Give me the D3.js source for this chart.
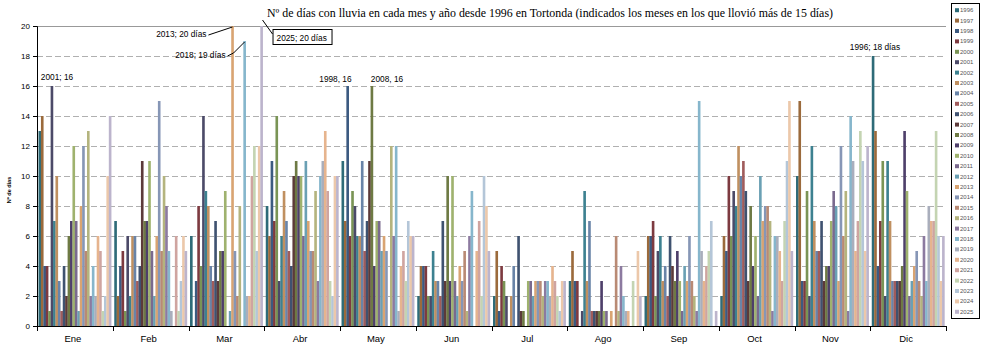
<!DOCTYPE html>
<html><head><meta charset="utf-8">
<script src="https://cdn.jsdelivr.net/npm/d3@7"></script>
<style>body{margin:0;background:#fff}svg{display:block}</style>
</head><body><svg id="c" width="983" height="349"></svg>
<script>
const months = ["Ene","Feb","Mar","Abr","May","Jun","Jul","Ago","Sep","Oct","Nov","Dic"];
const years = d3.range(1996, 2026).map(String);
const yTicks = [0,2,4,6,8,10,12,14,16,18,20];
const ene = [13,14,4,4,1,16,7,10,3,1,4,2,6,7,12,7,1,8,12,5,13,2,4,2,6,5,1,2,10,14];
const feb = [7,2,4,5,1,6,2,6,6,3,4,11,7,7,11,5,2,6,15,5,10,8,5,1,0,6,1,3,6,5];
const mar = [6,0,3,8,4,14,9,8,4,3,7,3,5,5,9,0,1,20,5,2,8,0,19,2,2,10,12,5,12,20];
const abr = [8,6,11,7,14,3,6,9,7,5,4,10,11,10,10,6,11,7,5,5,9,3,10,11,13,9,3,2,10,10];
const may = [11,7,16,6,9,8,6,6,11,5,7,11,16,4,7,7,5,6,5,0,12,6,12,1,4,5,3,7,6,6];
const jun = [2,4,4,4,2,2,5,3,3,2,7,3,10,3,10,3,2,4,3,5,1,6,9,0,5,7,2,10,8,5];
const jul = [2,5,1,4,3,2,0,2,4,0,6,1,1,0,3,3,2,3,3,3,2,3,3,2,4,3,2,1,3,3];
const ago = [3,5,3,3,0,1,9,3,7,1,1,1,1,3,1,1,0,1,0,6,1,4,2,1,1,0,3,0,5,2];
const sep = [2,6,6,7,2,5,6,3,4,2,6,4,3,5,3,1,4,3,6,3,2,1,15,5,3,4,5,7,0,1];
const oct = [2,6,5,10,6,9,8,12,10,11,9,3,8,4,6,2,10,7,8,8,7,1,6,6,5,3,7,11,15,5];
const nov = [10,15,3,3,9,2,12,7,5,5,7,3,4,4,7,9,8,3,12,6,9,1,14,11,5,7,13,11,5,12];
const dic = [18,13,4,7,11,2,11,7,3,3,3,3,4,13,9,2,3,4,5,3,2,6,3,8,7,7,13,6,3,6];
const monthValues = [ene,feb,mar,abr,may,jun,jul,ago,sep,oct,nov,dic];
const yearColors = ["#2e6b78","#9b6a3c","#3c5a80","#7d3a40","#7a9455","#4c4a68","#3d8190","#c09060","#6984a8","#a05c5c",
  "#3f5270","#5c3a3a","#6e7a44","#4e3f6a","#9fb26e","#7a6a8e","#6aa0b4","#d9a472","#8696b6","#b98a74",
  "#b4b47e","#8c7aa0","#86b6cc","#a9aebc","#e6b48e","#cfa4a0","#c4d4b2","#b4c6d8","#ecc8aa","#bcb4cc"];
const title = "Nº de días con lluvia en cada mes y año desde 1996 en Tortonda (indicados los meses en los que llovió más de 15 días)";
const yTitle = "Nº de días";
// annotations: [text, month, year]
const notes = [
  ["2001; 16","Ene","2001"],
  ["2013; 20 días","Mar","2013"],
  ["2018; 19 días","Mar","2018"],
  ["2025; 20 días","Mar","2025"],
  ["1998, 16","May","1998"],
  ["2008, 16","May","2008"],
  ["1996; 18 días","Dic","1996"]
];

const svg = d3.select("#c");
const L = 37, R = 946, T = 26, B = 326;
const x0 = d3.scaleBand().domain(months).range([L, R]).paddingInner(0.04).paddingOuter(0.02);
const x1 = d3.scaleBand().domain(years).range([0, x0.bandwidth()]);
const y = d3.scaleLinear().domain([0, 20]).range([B, T]);
const color = d3.scaleOrdinal().domain(years).range(yearColors);

// gridlines
svg.append("g").selectAll("line").data(yTicks.filter(d => d > 0)).join("line")
  .attr("x1", L).attr("x2", R).attr("y1", d => y(d) + 0.5).attr("y2", d => y(d) + 0.5)
  .attr("stroke", d => d === 20 ? "#999" : "#b0b0b0").attr("stroke-width", 1)
  .attr("stroke-dasharray", d => d === 20 ? null : "6,3");

// bars
const data = [];
months.forEach((m, i) => years.forEach((yr, j) => data.push({m, yr, v: monthValues[i][j]})));
svg.append("g").selectAll("rect").data(data).join("rect")
  .attr("x", d => x0(d.m) + x1(d.yr))
  .attr("y", d => y(d.v))
  .attr("width", x1.bandwidth() + 0.2)
  .attr("height", d => B - y(d.v))
  .attr("fill", d => color(d.yr));

// axes
const yAxis = d3.axisLeft(y).tickValues(yTicks).tickSize(4).tickPadding(3);
const gy = svg.append("g").attr("transform", `translate(${L},0)`).call(yAxis);
gy.selectAll("text").attr("font-family", "Arial, Liberation Sans, sans-serif").attr("font-size", 8).attr("fill", "#000");
gy.selectAll("path,line").attr("stroke", "#000");

const xb = d3.scaleLinear().domain([0, 12]).range([L, R]);
const gx = svg.append("g");
gx.append("line").attr("x1", L).attr("x2", R).attr("y1", B + 0.5).attr("y2", B + 0.5).attr("stroke", "#000");
gx.selectAll("line.t").data(d3.range(13)).join("line").attr("class", "t")
  .attr("x1", d => Math.round(xb(d)) + 0.5).attr("x2", d => Math.round(xb(d)) + 0.5)
  .attr("y1", B).attr("y2", B + 5).attr("stroke", "#000");
gx.selectAll("text").data(months).join("text")
  .attr("x", d => x0(d) + x0.bandwidth() / 2 - 2).attr("y", 342)
  .attr("text-anchor", "middle").attr("font-family", "Arial, Liberation Sans, sans-serif")
  .attr("font-size", 9.5).text(d => d);

// titles
svg.append("text").attr("x", 550).attr("y", 17).attr("text-anchor", "middle")
  .attr("font-family", "Liberation Serif, Times New Roman, serif").attr("font-size", 11.9).text(title);
svg.append("text").attr("transform", "translate(11,190) rotate(-90)").attr("text-anchor", "middle")
  .attr("font-family", "Arial, Liberation Sans, sans-serif").attr("font-size", 5.5).attr("font-weight", "bold").text(yTitle);

// annotations
const bx = (m, yr) => x0(m) + x1(yr) + x1.bandwidth() / 2;
const val = (m, yr) => monthValues[months.indexOf(m)][years.indexOf(yr)];
const ag = svg.append("g").attr("font-family", "Arial, Liberation Sans, sans-serif").attr("font-size", 8.3).attr("fill", "#000");
notes.forEach(([t, m, yr]) => {
  const cx = bx(m, yr), ty = y(val(m, yr));
  if (t.startsWith("2001")) {
    ag.append("text").attr("x", cx - 11).attr("y", ty - 6).text(t);
  } else if (t.startsWith("1998")) {
    ag.append("text").attr("x", cx + 4).attr("y", ty - 4).attr("text-anchor", "end").text(t);
  } else if (t.startsWith("2008")) {
    ag.append("text").attr("x", cx - 1).attr("y", ty - 4).text(t);
  } else if (t.startsWith("1996")) {
    ag.append("text").attr("x", cx + 2).attr("y", ty - 6).attr("text-anchor", "middle").text(t);
  } else if (t.startsWith("2013")) {
    ag.append("text").attr("x", cx - 26).attr("y", ty + 11).attr("text-anchor", "end").text(t);
    ag.append("path").attr("d", `M${cx - 24},${ty + 9} L${cx},${ty + 1}`).attr("stroke", "#000").attr("fill", "none");
  } else if (t.startsWith("2018")) {
    ag.append("text").attr("x", cx - 19).attr("y", ty + 17).attr("text-anchor", "end").text(t);
    ag.append("path").attr("d", `M${cx - 17},${ty + 15} L${cx - 11},${ty + 12} L${cx},${ty + 1}`).attr("stroke", "#000").attr("fill", "none");
  } else if (t.startsWith("2025")) {
    ag.append("rect").attr("x", cx + 11.5).attr("y", ty + 3.5).attr("width", 59).attr("height", 15)
      .attr("fill", "#fff").attr("stroke", "#000");
    ag.append("text").attr("x", cx + 15).attr("y", ty + 14.5).text(t);
    ag.append("path").attr("d", `M${cx + 11},${ty + 8} L${cx + 1},${ty - 6}`).attr("stroke", "#000").attr("fill", "none");
  }
});

// legend
const lg = svg.append("g");
lg.append("rect").attr("x", 951.5).attr("y", 3.5).attr("width", 28).attr("height", 315).attr("fill", "#fff").attr("stroke", "#000");
const ly = d3.scaleBand().domain(years).range([5, 317]);
lg.selectAll("rect.s").data(years).join("rect").attr("class", "s")
  .attr("x", 955).attr("y", d => ly(d) + ly.bandwidth() / 2 - 2).attr("width", 4).attr("height", 4)
  .attr("fill", d => color(d));
lg.selectAll("text").data(years).join("text")
  .attr("x", 960).attr("y", d => ly(d) + ly.bandwidth() / 2 + 2)
  .attr("font-family", "Arial, Liberation Sans, sans-serif").attr("font-size", 6).attr("fill", "#555").text(d => d);
</script></body></html>
